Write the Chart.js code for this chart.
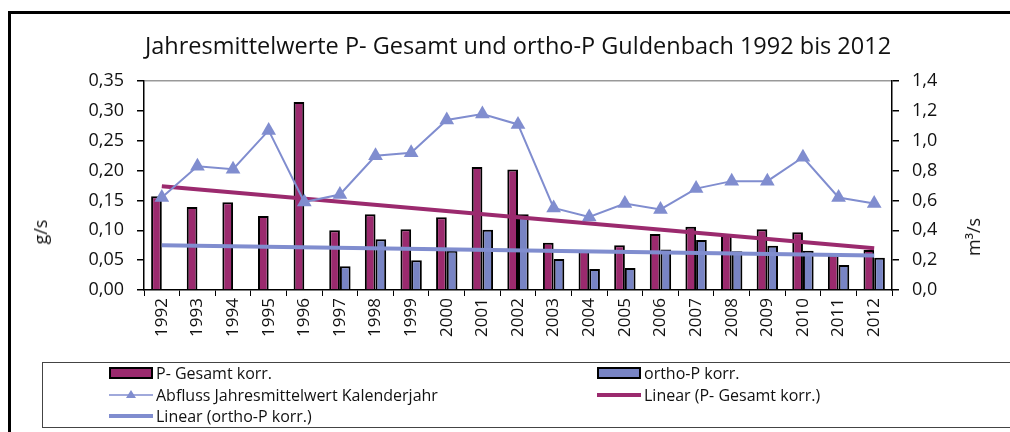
<!DOCTYPE html>
<html lang="de">
<head>
<meta charset="utf-8">
<title>Guldenbach P-Gesamt / ortho-P</title>
<script src="https://cdn.jsdelivr.net/npm/chart.js@4.4.1/dist/chart.umd.min.js"></script>
<style>
  html, body { margin: 0; padding: 0; background: #fff; overflow: hidden; }
  body { width: 1010px; height: 432px; position: relative; font-family: "Open Sans", sans-serif; color: #111; }
  #frame { position: absolute; left: 8px; top: 11px; width: 1200px; height: 600px; border-left: 3px solid #000; border-top: 3px solid #000; }
  #chart { position: absolute; left: 0; top: 0; }
  .axisTitle { position: absolute; font-size: 18px; transform: translate(-50%, -50%) rotate(-90deg); white-space: nowrap; }
  #legend { position: absolute; left: 42px; top: 362px; width: 1100px; height: 64px; border: 1.5px solid #444; border-right: none; }
  .item { position: absolute; display: flex; align-items: center; font-size: 16px; white-space: nowrap; height: 20px; }
  .sym { width: 44px; height: 20px; margin-right: 3px; position: relative; }
</style>
</head>
<body>
<div id="frame"></div>
<canvas id="chart" width="1010" height="432"></canvas>
<div class="axisTitle" style="left:40px; top:232px;">g/s</div>
<div class="axisTitle" style="left:973px; top:237px;">m³/s</div>
<div id="legend"></div>

<script>
const years = ['1992', '1993', '1994', '1995', '1996', '1997', '1998', '1999', '2000', '2001', '2002',
  '2003', '2004', '2005', '2006', '2007', '2008', '2009', '2010', '2011', '2012'];

// Frachten in g/s
const pGesamt = [0.157, 0.139, 0.147, 0.124, 0.315, 0.100, 0.127, 0.102, 0.122, 0.206, 0.202,
  0.079, 0.067, 0.075, 0.094, 0.106, 0.092, 0.102, 0.097, 0.059, 0.067];
const orthoP = [null, null, null, null, null, 0.040, 0.085, 0.050, 0.066, 0.101, 0.127,
  0.052, 0.035, 0.037, 0.068, 0.084, 0.065, 0.074, 0.066, 0.042, 0.054];

// Abfluss in m³/s
const abfluss = [0.62, 0.83, 0.81, 1.07, 0.59, 0.64, 0.90, 0.92, 1.14, 1.18, 1.11,
  0.55, 0.49, 0.58, 0.54, 0.68, 0.73, 0.73, 0.89, 0.62, 0.58];

// Trendlinien (Anfangs- und Endwert)
const trendPGesamt = [0.174, 0.070];
const trendOrthoP = [0.075, 0.058];

const leftTicks = [0, 0.05, 0.10, 0.15, 0.20, 0.25, 0.30, 0.35];
const rightTicks = [0, 0.2, 0.4, 0.6, 0.8, 1.0, 1.2, 1.4];

const MAGENTA = '#9b2a6e';
const BLUE_BAR = '#7884c4';
const BLUE_LINE = '#808dcf';
const FONT = 'Open Sans';

function trendPoints(pair) {
  return [{ x: years[0], y: pair[0] }, { x: years[years.length - 1], y: pair[1] }];
}

const comma = (v, d) => v.toFixed(d).replace('.', ',');

const chart = new Chart(document.getElementById('chart'), {
  data: {
    labels: years,
    datasets: [
      {
        type: 'bar', label: 'P- Gesamt korr.', data: pGesamt, yAxisID: 'y',
        backgroundColor: MAGENTA, borderColor: '#000', borderWidth: 2,
        categoryPercentage: 0.6, barPercentage: 1, order: 3
      },
      {
        type: 'bar', label: 'ortho-P korr.', data: orthoP, yAxisID: 'y',
        backgroundColor: BLUE_BAR, borderColor: '#000', borderWidth: 2,
        categoryPercentage: 0.6, barPercentage: 1, order: 3
      },
      {
        type: 'line', label: 'Abfluss Jahresmittelwert Kalenderjahr', data: abfluss, yAxisID: 'y1',
        borderColor: BLUE_LINE, borderWidth: 2, backgroundColor: BLUE_LINE,
        pointStyle: 'triangle', pointRadius: 8.5, pointBorderWidth: 0, tension: 0, order: 1
      },
      {
        type: 'line', label: 'Linear (P- Gesamt korr.)', data: trendPoints(trendPGesamt), yAxisID: 'y',
        borderColor: MAGENTA, borderWidth: 4, pointRadius: 0, order: 2
      },
      {
        type: 'line', label: 'Linear (ortho-P korr.)', data: trendPoints(trendOrthoP), yAxisID: 'y',
        borderColor: BLUE_LINE, borderWidth: 4, pointRadius: 0, order: 2
      }
    ]
  },
  options: {
    responsive: false,
    animation: false,
    layout: { padding: { top: 0, left: 0, right: 0, bottom: 70 } },
    plugins: {
      legend: { display: false },
      tooltip: { enabled: false },
      title: {
        display: true, fullSize: false,
        text: 'Jahresmittelwerte P- Gesamt und ortho-P Guldenbach 1992 bis 2012',
        color: '#111', font: { family: FONT, size: 23.5, weight: 'normal' },
        padding: { top: 33, bottom: 20 }
      }
    },
    scales: {
      x: {
        offset: true,
        grid: { offset: true, drawOnChartArea: false, tickColor: '#000', tickLength: 6 },
        border: { color: '#000', width: 1.5 },
        ticks: { color: '#111', font: { family: FONT, size: 17 }, minRotation: 90, maxRotation: 90, padding: 2, autoSkip: false },
        afterFit: s => { s.height = 72; }
      },
      y: {
        position: 'left', min: 0, max: 0.35,
        afterBuildTicks: s => { s.ticks = leftTicks.map(v => ({ value: v })); },
        grid: {
          color: c => (c.tick && Math.abs(c.tick.value - 0.35) < 1e-6) ? '#999' : 'rgba(0,0,0,0)',
          tickColor: '#000', tickLength: 7, lineWidth: 1.5
        },
        border: { color: '#000', width: 1.5 },
        ticks: { color: '#111', font: { family: FONT, size: 18 }, padding: 13, callback: v => comma(v, 2) },
        afterFit: s => { s.width = 144; }
      },
      y1: {
        position: 'right', min: 0, max: 1.4,
        afterBuildTicks: s => { s.ticks = rightTicks.map(v => ({ value: v })); },
        grid: { drawOnChartArea: false, tickColor: '#000', tickLength: 7, lineWidth: 1.5 },
        border: { color: '#000', width: 1.5 },
        ticks: { color: '#111', font: { family: FONT, size: 18 }, padding: 13, callback: v => comma(v, 1) },
        afterFit: s => { s.width = 118; }
      }
    }
  }
});

// Legende im Kasten unter dem Diagramm, zweispaltig
const legendSlots = [[0, 0], [1, 0], [0, 1], [1, 1], [0, 2]];
const legendBox = document.getElementById('legend');
chart.data.datasets.forEach((ds, i) => {
  const [col, row] = legendSlots[i];
  const item = document.createElement('div');
  item.className = 'item';
  item.style.left = (col === 0 ? 66 : 554) + 'px';
  item.style.top = (row * 21.5) + 'px';
  let sym;
  if (ds.type === 'bar') {
    sym = `<svg class="sym" viewBox="0 0 44 20"><rect x="1" y="5" width="42" height="10" fill="${ds.backgroundColor}" stroke="#000" stroke-width="2"/></svg>`;
  } else if (ds.pointStyle === 'triangle') {
    sym = `<svg class="sym" viewBox="0 0 44 20"><line x1="0" y1="10" x2="44" y2="10" stroke="${ds.borderColor}" stroke-width="1.5"/><polygon points="22,5 27,13 17,13" fill="${ds.borderColor}"/></svg>`;
  } else {
    sym = `<svg class="sym" viewBox="0 0 44 20"><line x1="0" y1="10" x2="44" y2="10" stroke="${ds.borderColor}" stroke-width="4"/></svg>`;
  }
  item.innerHTML = sym + '<span>' + ds.label + '</span>';
  legendBox.appendChild(item);
});
</script>
</body>
</html>
